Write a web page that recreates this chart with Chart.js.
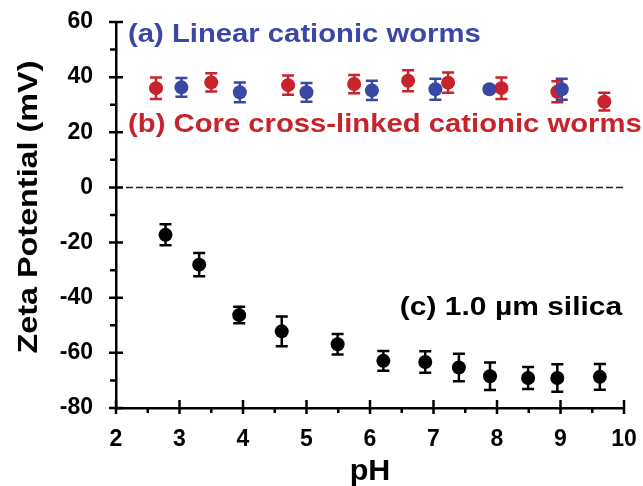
<!DOCTYPE html>
<html>
<head>
<meta charset="utf-8">
<script src="https://cdn.jsdelivr.net/npm/chart.js@4/dist/chart.umd.min.js"></script>
<style>
  html, body { margin: 0; padding: 0; background: #fff; }
  #wrap { width: 643px; height: 486px; }
</style>
</head>
<body>
<div id="wrap"><canvas id="grafico"></canvas></div>
<script>
// valores: pH e potencial zeta (mV), com barras de erro
let phLinear = [3.03, 3.95, 5.0, 6.03, 7.03, 7.88, 9.02];
let zetaLinear = [36.3, 34.5, 34.5, 35.2, 35.6, 35.6, 35.6];
let errLinear = [3.4, 3.6, 3.4, 3.5, 3.8, 1.0, 3.8];

let phCross = [2.63, 3.5, 4.71, 5.75, 6.6, 7.23, 8.07, 8.95, 9.69];
let zetaCross = [36.0, 38.1, 37.1, 37.5, 38.7, 38.0, 36.0, 34.7, 31.1];
let errCross = [3.9, 3.3, 3.5, 3.3, 3.8, 3.7, 3.9, 3.8, 3.2];

let phSilica = [2.78, 3.31, 3.94, 4.61, 5.49, 6.21, 6.87, 7.40, 7.89, 8.49, 8.95, 9.62];
let zetaSilica = [-17.2, -28.0, -46.3, -52.2, -56.9, -62.9, -63.3, -65.3, -68.5, -69.1, -69.1, -68.7];
let errSilica = [3.8, 4.2, 3.0, 5.4, 3.7, 3.6, 3.9, 5.0, 5.0, 4.0, 5.0, 4.7];

let xTicks = [2, 3, 4, 5, 6, 7, 8, 9, 10];
let yTicks = [-80, -60, -40, -20, 0, 20, 40, 60];
let zeroLine = [2, 10];

let azul = '#3b47a4';
let vermelho = '#c8222b';

function pontos(xs, ys) {
    return xs.map((v, i) => ({ x: v, y: ys[i] }));
}

// barras de erro desenhadas antes dos pontos de cada serie
const barrasErro = {
    id: 'barrasErro',
    beforeDatasetDraw(chart, args) {
        const ds = chart.data.datasets[args.index];
        if (!ds.erros) return;
        const { ctx, scales: { x, y } } = chart;
        ctx.save();
        ctx.strokeStyle = ds.backgroundColor;
        ctx.lineWidth = 2.5;
        ds.data.forEach((p, i) => {
            const px = x.getPixelForValue(p.x);
            const top = y.getPixelForValue(p.y + ds.erros[i]);
            const bot = y.getPixelForValue(p.y - ds.erros[i]);
            ctx.beginPath();
            ctx.moveTo(px, top); ctx.lineTo(px, bot);
            ctx.moveTo(px - 6, top); ctx.lineTo(px + 6, top);
            ctx.moveTo(px - 6, bot); ctx.lineTo(px + 6, bot);
            ctx.stroke();
        });
        ctx.restore();
    }
};

// marcas dos eixos: principais cruzando o eixo, secundarias para fora
const marcas = {
    id: 'marcas',
    afterDraw(chart) {
        const { ctx, scales: { x, y } } = chart;
        ctx.save();
        ctx.strokeStyle = '#000';
        ctx.lineWidth = 2.5;
        ctx.beginPath();
        yTicks.forEach((v, i) => {
            const py = y.getPixelForValue(v);
            ctx.moveTo(x.left - 7, py); ctx.lineTo(x.left + 7, py);
            if (i < yTicks.length - 1) {
                const pm = y.getPixelForValue((v + yTicks[i + 1]) / 2);
                ctx.moveTo(x.left - 6, pm); ctx.lineTo(x.left, pm);
            }
        });
        xTicks.forEach((v, i) => {
            const px = x.getPixelForValue(v);
            ctx.moveTo(px, y.bottom - 8); ctx.lineTo(px, y.bottom + 6);
            if (i < xTicks.length - 1) {
                const pm = x.getPixelForValue((v + xTicks[i + 1]) / 2);
                ctx.moveTo(pm, y.bottom); ctx.lineTo(pm, y.bottom + 5);
            }
        });
        ctx.stroke();
        ctx.restore();
    }
};

function textoLargo(ctx, txt, px, py, tam, esticar, cor, rot) {
    ctx.save();
    ctx.translate(px, py);
    if (rot) ctx.rotate(rot);
    ctx.scale(esticar, 1);
    ctx.font = 'bold ' + tam + 'px "Liberation Sans", Arial, sans-serif';
    ctx.fillStyle = cor;
    ctx.fillText(txt, 0, 0);
    ctx.restore();
}

// titulos dos eixos e rotulos das series
const textos = {
    id: 'textos',
    afterDraw(chart) {
        const { ctx, chartArea, scales: { x, y } } = chart;
        ctx.save();
        ctx.textBaseline = 'middle';
        ctx.textAlign = 'left';
        textoLargo(ctx, '(a) Linear cationic worms', x.getPixelForValue(2.19), y.getPixelForValue(55.3), 25, 1.17, azul);
        textoLargo(ctx, '(b) Core cross-linked cationic worms', x.getPixelForValue(2.19), y.getPixelForValue(22.5), 25, 1.17, vermelho);
        textoLargo(ctx, '(c) 1.0 µm silica', x.getPixelForValue(6.47), y.getPixelForValue(-43.9), 25, 1.2, '#000');
        ctx.textAlign = 'center';
        ctx.textBaseline = 'alphabetic';
        const meio = (chartArea.top + chartArea.bottom) / 2;
        textoLargo(ctx, 'Zeta Potential (mV)', 37, meio - 8, 28, 1.155, '#000', -Math.PI / 2);
        textoLargo(ctx, 'pH', (chartArea.left + chartArea.right) / 2, 480, 29, 1.05, '#000');
        ctx.restore();
    }
};

let grafico = document.getElementById('grafico').getContext('2d');

let chart = new Chart(grafico, {
    type: 'scatter',
    data: {
        datasets: [
            {
                label: '(a) Linear cationic worms',
                data: pontos(phLinear, zetaLinear),
                erros: errLinear,
                backgroundColor: azul,
                borderColor: azul,
                pointRadius: 7,
                pointBorderWidth: 0,
            },
            {
                label: '(b) Core cross-linked cationic worms',
                data: pontos(phCross, zetaCross),
                erros: errCross,
                backgroundColor: vermelho,
                borderColor: vermelho,
                pointRadius: 7,
                pointBorderWidth: 0,
            },
            {
                label: '(c) 1.0 µm silica',
                data: pontos(phSilica, zetaSilica),
                erros: errSilica,
                backgroundColor: '#000',
                borderColor: '#000',
                pointRadius: 7,
                pointBorderWidth: 0,
            },
            {
                type: 'line',
                label: 'zero',
                data: pontos(zeroLine, [0, 0]),
                borderColor: '#222',
                borderWidth: 1.5,
                borderDash: [7, 3],
                pointRadius: 0,
                fill: false,
            }
        ]
    },
    options: {
        responsive: true,
        maintainAspectRatio: false,
        animation: false,
        events: [],
        layout: { padding: { top: 22, right: 19, left: 0, bottom: 0 } },
        plugins: { legend: { display: false }, tooltip: { enabled: false } },
        scales: {
            x: {
                type: 'linear',
                min: 2,
                max: 10,
                afterBuildTicks: s => { s.ticks = xTicks.map(v => ({ value: v })); },
                afterFit: s => { s.height = 78; s.paddingLeft = 0; s.paddingRight = 0; },
                grid: { display: false, drawTicks: false },
                border: { display: true, color: '#000', width: 2.5 },
                ticks: {
                    color: '#000',
                    padding: 18,
                    maxRotation: 0,
                    font: { family: '"Liberation Sans", Arial, sans-serif', size: 23, weight: 'bold' }
                }
            },
            y: {
                type: 'linear',
                min: -80,
                max: 60,
                afterBuildTicks: s => { s.ticks = yTicks.map(v => ({ value: v })); },
                afterFit: s => { s.width = 116; s.paddingTop = 0; s.paddingBottom = 0; },
                grid: { display: false, drawTicks: false },
                border: { display: true, color: '#000', width: 2.5 },
                ticks: {
                    color: '#000',
                    padding: 23,
                    font: { family: '"Liberation Sans", Arial, sans-serif', size: 23, weight: 'bold' }
                }
            }
        }
    },
    plugins: [barrasErro, marcas, textos]
});
</script>
</body>
</html>
